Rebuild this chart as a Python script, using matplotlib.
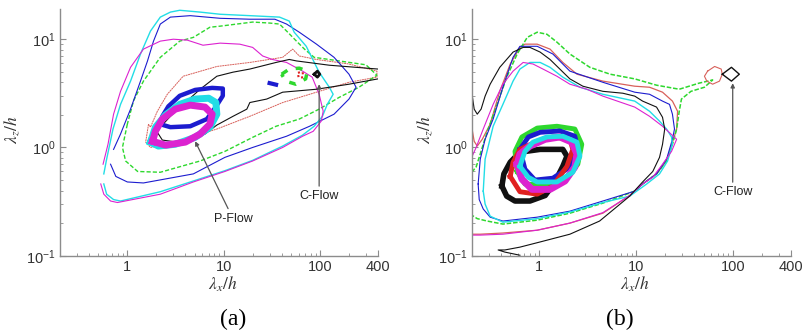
import matplotlib
matplotlib.use("Agg")
import matplotlib.pyplot as plt
from matplotlib.ticker import FixedLocator, LogLocator, NullFormatter

plt.rcParams['font.family'] = ['Liberation Sans', 'DejaVu Sans']
plt.rcParams['mathtext.fontset'] = 'stix'
plt.rcParams['mathtext.default'] = 'it'

# colours of the contour levels (MATLAB-like)
C_BLUE = '#1c1ccf'
C_CYAN = '#22dde6'
C_MAG = '#dc22d0'
C_GREEN = '#2ed82e'
C_RED = '#d8605a'
C_BLACK = '#111111'

# ---------------- panel (a): P-Flow ----------------
a_cyan_x = [0.57, 0.61, 0.72, 0.85, 2.2, 4.85, 10.3, 20, 41, 66, 87, 106, 119, 137, 125, 98, 72, 54, 48, 38,
            18.7, 9.2, 5.7, 3.5, 2.8, 2.2, 1.74, 1.37, 1.08, 0.85, 0.71, 0.61, 0.57]
a_cyan_y = [0.46, 0.37, 0.33, 0.32, 0.39, 0.49, 0.61, 0.76, 1.03, 1.30, 1.57, 1.94, 2.5, 3.1, 3.6, 4.96, 8.6, 11.6, 14.7, 16,
            16.5, 17, 17.8, 18.5, 17.8, 16, 11.9, 7.3, 4.1, 2.5, 1.48, 0.78, 0.57]

a_mag_x = [0.53, 0.57, 0.67, 0.79, 2.2, 4.85, 10.3, 20, 41, 66, 85, 103, 108, 98, 83, 66, 45, 32, 25.4, 20,
           14.7, 9.2, 6.1, 4.2, 3.0, 2.2, 1.47, 1.08, 0.85, 0.72, 0.63, 0.56]
a_mag_y = [0.46, 0.37, 0.32, 0.31, 0.37, 0.48, 0.60, 0.75, 1.0, 1.27, 1.41, 1.75, 2.16, 3.1, 4.46, 5.07, 6.1, 6.5, 7.0, 8.4,
           9.0, 9.2, 8.8, 9.8, 10, 9.6, 8.1, 5.5, 3.3, 2.03, 1.07, 0.70]

a_blue_x = [0.67, 0.76, 1.0, 1.47, 4.85, 10.3, 20, 45, 78, 140, 200, 237, 200, 140, 92, 61, 45, 34, 18.7, 9.2,
            4.5, 2.8, 2.2, 1.87, 1.62, 1.37, 1.08, 0.85, 0.72]
a_blue_y = [0.70, 0.54, 0.48, 0.47, 0.57, 0.81, 1.0, 1.27, 1.57, 2.03, 2.8, 3.6, 4.75, 6.8, 9.0, 11.6, 13.8, 15.3, 15.3, 15.6,
            16.5, 16, 13.8, 9.6, 6.3, 4.1, 2.26, 1.33, 0.96]

a_green_x = [1.0, 0.89, 0.96, 1.28, 2.2, 5.7, 10.3, 20, 35, 61, 98, 158, 254, 390, 300, 158, 87, 69, 57, 45,
             38, 30, 20, 13.7, 9.2, 7.2, 4.85, 3.5, 2.2, 1.47, 1.16, 1.0]
a_green_y = [1.64, 1.0, 0.75, 0.60, 0.59, 0.75, 0.92, 1.24, 1.57, 1.83, 2.26, 2.9, 3.6, 4.65, 5.8, 6.3, 6.8, 8.1, 9.6, 11.9,
             13.8, 14.1, 14.4, 13.8, 13.2, 12.9, 10.4, 9.6, 6.8, 4.1, 2.7, 1.64]

a_red_x = [1.66, 1.55, 1.74, 2.5, 4.5, 8.5, 18.7, 41, 92, 200, 390, 390, 200, 92, 61, 52, 41, 18.7, 8.5, 3.8,
           2.6, 2.05, 1.74, 1.66]
a_red_y = [1.64, 1.12, 1.0, 1.07, 1.24, 1.48, 1.94, 2.6, 3.24, 4.0, 4.46, 5.07, 5.9, 6.5, 7.0, 8.1, 6.8, 6.1, 5.6, 4.55,
           3.1, 2.16, 1.54, 1.64]

a_black_x = [2.05, 2.31, 3.3, 4.85, 6.4, 8.5, 12.5, 17.4, 18.7, 28, 41, 92, 200, 400]
a_black_y = [1.38, 1.17, 1.12, 1.19, 1.33, 1.61, 1.94, 2.26, 2.6, 2.8, 3.24, 3.45, 3.84, 4.3]
a_black2_x = [400, 125, 57, 48, 35, 18.7, 12.5, 8.5, 5.7, 3.8, 2.8, 2.2, 2.05]
a_black2_y = [5.3, 5.75, 6.3, 6.5, 6.1, 5.3, 4.96, 4.55, 3.45, 2.5, 1.94, 1.54, 1.38]

# thick inner rings (a)
a_ring_cyan_x = [1.74, 2.1, 3.15, 5.06, 7.2, 8.5, 8.3, 7.0, 5.06, 3.5, 2.5, 1.96, 1.74]
a_ring_cyan_y = [1.12, 1.03, 1.07, 1.24, 1.54, 2.03, 2.6, 2.85, 2.8, 2.5, 2.0, 1.54, 1.12]
a_ring_blue_x = [2.2, 2.8, 4.5, 6.7, 8.1, 9.8, 9.8, 7.6, 5.06, 3.5, 2.67, 2.31, 2.2]
a_ring_blue_y = [1.64, 1.54, 1.57, 1.83, 2.3, 3.0, 3.5, 3.55, 3.4, 3.0, 2.4, 1.94, 1.64]
a_ring_mag_x = [1.83, 2.5, 4.0, 5.7, 7.2, 7.6, 6.4, 4.5, 3.15, 2.31, 1.96, 1.83]
a_ring_mag_y = [1.14, 1.05, 1.12, 1.33, 1.64, 2.03, 2.36, 2.46, 2.26, 1.83, 1.42, 1.14]

# small C-Flow contours (a)
a_cf_green_x = [40, 48, 61, 74, 71, 56, 44, 40]
a_cf_green_y = [4.75, 5.3, 5.4, 5.07, 4.3, 3.84, 4.1, 4.75]
a_cf_red_x = [59, 66, 67, 60, 59]
a_cf_red_y = [4.9, 5.0, 4.45, 4.4, 4.9]
a_cf_blue_x = [30, 35]
a_cf_blue_y = [3.93, 3.8]
a_cf_black_x = [87, 94, 99.6, 94, 87]
a_cf_black_y = [4.75, 5.07, 4.75, 4.46, 4.75]

# ---------------- panel (b) ----------------
b_black_x = [0.20, 0.212, 0.228, 0.25, 0.275, 0.31, 0.39, 0.535, 0.68, 0.80, 1.02, 1.29, 1.63, 2.07, 2.82, 4.54,
             7.3, 9.7, 11.7, 16.3, 18.8, 19.8, 18.8, 17.5, 14.9, 11.7, 8.6, 4.2, 2.07, 1.02, 0.63, 0.44, 0.375,
             0.44, 0.63]
b_black_y = [3.24, 2.26, 2.03, 2.26, 2.98, 3.84, 5.5, 7.6, 8.4, 8.4, 7.6, 6.5, 5.3, 4.3, 3.68, 3.3,
             3.17, 2.98, 2.68, 2.36, 1.9, 1.48, 1.07, 0.81, 0.60, 0.48, 0.355, 0.209, 0.158, 0.134, 0.12, 0.113, 0.113,
             0.108, 0.101]

b_red_x = [0.20, 0.212, 0.228, 0.257, 0.31, 0.39, 0.50, 0.63, 0.71, 0.95, 1.29, 1.75, 2.45, 4.54, 9.7, 13.8,
           18.8, 23.8, 26.9, 26.3, 20.7, 16.3, 11.7, 8.6, 4.54, 2.07, 0.95, 0.42, 0.245, 0.20]
b_red_y = [1.54, 1.14, 1.03, 1.19, 1.64, 3.3, 5.9, 8.4, 9.0, 9.0, 8.1, 6.1, 4.75, 4.1, 3.68, 3.6,
           3.24, 2.68, 2.16, 1.48, 0.75, 0.57, 0.46, 0.36, 0.247, 0.20, 0.172, 0.162, 0.158, 0.158]

b_mag_x = [0.20, 0.222, 0.263, 0.333, 0.42, 0.535, 0.68, 0.86, 1.09, 1.52, 2.07, 3.1, 4.54, 9.7, 13.8, 18.8,
           26.3, 23.3, 18.8, 14.9, 11.7, 8.6, 4.54, 2.07, 0.95, 0.42, 0.245, 0.20]
b_mag_y = [0.81, 1.0, 1.48, 2.5, 3.84, 5.07, 6.1, 5.9, 5.3, 4.55, 3.84, 3.45, 2.98, 2.36, 1.94, 1.57,
           1.19, 0.92, 0.70, 0.53, 0.46, 0.36, 0.25, 0.20, 0.172, 0.158, 0.155, 0.155]

b_blue_x = [0.233, 0.245, 0.275, 0.333, 0.42, 0.535, 0.63, 0.95, 1.38, 2.07, 4.54, 9.7, 13.8, 18.8, 22.2, 23.8,
            25, 23.8, 20.7, 16.3, 11.7, 9.7, 4.54, 2.07, 0.95, 0.42, 0.31, 0.263, 0.239, 0.233]
b_blue_y = [0.46, 0.78, 1.19, 1.83, 3.6, 6.8, 8.6, 8.6, 7.3, 5.07, 4.0, 3.24, 3.1, 2.68, 2.5, 2.03,
            1.48, 1.19, 0.78, 0.57, 0.46, 0.395, 0.32, 0.258, 0.227, 0.209, 0.227, 0.27, 0.33, 0.46]

b_cyan_x = [0.263, 0.275, 0.333, 0.42, 0.535, 0.63, 0.80, 1.02, 1.29, 1.75, 2.63, 4.54, 9.7, 13.8, 17.5, 20.7,
            23.3, 23.8, 21.2, 17.5, 12.9, 8.6, 4.54, 2.07, 0.95, 0.42, 0.31, 0.275, 0.263]
b_cyan_y = [0.395, 0.78, 1.57, 2.5, 4.1, 5.3, 6.1, 6.1, 5.5, 4.46, 3.6, 3.1, 2.68, 2.16, 1.75, 1.48,
            1.25, 1.07, 0.75, 0.57, 0.46, 0.355, 0.31, 0.253, 0.22, 0.204, 0.232, 0.30, 0.395]

b_green_x = [0.20, 0.222, 0.245, 0.269, 0.296, 0.366, 0.46, 0.59, 0.75, 0.95, 1.2, 1.52, 2.07, 3.33, 5.4, 9.7,
             16.3, 28, 45, 62, 51, 37, 29.5, 28, 26.3, 23.8, 20.7, 16.3, 11.7, 9.7, 4.54, 2.07, 0.95, 0.42,
             0.289, 0.228, 0.20]
b_green_y = [0.59, 0.66, 0.87, 1.14, 1.48, 2.5, 4.46, 7.3, 10.4, 11.6, 11.1, 9.4, 7.3, 5.5, 4.75, 4.3,
             3.76, 3.45, 3.93, 4.2, 3.6, 3.3, 2.8, 2.16, 1.48, 1.07, 0.75, 0.57, 0.46, 0.395, 0.306, 0.247, 0.213,
             0.196, 0.209, 0.22, 0.237]

# thick inner rings (b)
b_ring_black_x = [0.41, 0.46, 0.56, 0.80, 1.15, 1.45, 1.75, 1.93, 1.75, 1.38, 1.02, 0.63, 0.50, 0.43, 0.41]
b_ring_black_y = [0.44, 0.355, 0.32, 0.32, 0.36, 0.48, 0.67, 0.83, 0.96, 0.96, 0.96, 0.905, 0.73, 0.57, 0.44]
b_ring_green_x = [0.59, 0.71, 1.15, 1.84, 2.5, 2.75, 2.33, 1.52, 0.95, 0.66, 0.56, 0.59]
b_ring_green_y = [0.60, 0.46, 0.45, 0.51, 0.70, 1.07, 1.48, 1.57, 1.51, 1.25, 0.92, 0.60]
b_ring_blue_x = [0.63, 0.71, 0.90, 1.38, 2.07, 2.5, 2.33, 1.63, 1.02, 0.77, 0.63]
b_ring_blue_y = [0.96, 0.63, 0.50, 0.52, 0.66, 0.96, 1.27, 1.42, 1.38, 1.25, 0.96]
b_ring_red_x = [0.50, 0.63, 0.95, 1.38, 1.93, 2.22, 2.07, 1.38, 0.95, 0.63, 0.535, 0.50]
b_ring_red_y = [0.54, 0.39, 0.37, 0.44, 0.67, 0.96, 1.19, 1.25, 1.14, 0.96, 0.73, 0.54]
b_ring_mag_x = [0.59, 0.66, 0.84, 1.29, 1.84, 2.33, 2.45, 2.17, 1.63, 1.15, 0.80, 0.63, 0.59]
b_ring_mag_y = [0.70, 0.51, 0.41, 0.41, 0.49, 0.66, 0.87, 1.12, 1.25, 1.19, 1.03, 0.87, 0.70]
b_ring_cyan_x = [0.63, 0.77, 0.95, 1.52, 2.22, 2.63, 2.45, 1.75, 1.2, 0.86, 0.71, 0.63]
b_ring_cyan_y = [0.67, 0.53, 0.48, 0.48, 0.59, 0.83, 1.12, 1.27, 1.25, 1.12, 0.92, 0.67]

# C-Flow contours (b)
b_cf_red_x = [55, 65, 76, 78, 73, 62, 54, 51, 55]
b_cf_red_y = [5.07, 5.6, 5.3, 4.75, 4.1, 3.84, 4.1, 4.55, 5.07]
b_cf_black_x = [78, 97, 117, 97, 78]
b_cf_black_y = [4.75, 5.5, 4.75, 4.1, 4.75]

x_ticks = [1, 10, 100, 400]
x_ticklabels = ['1', '10', '100', '400']

fig = plt.figure(figsize=(8.02, 3.32), dpi=100)
ax_a = fig.add_axes([0.0748, 0.2298, 0.3965, 0.743])
ax_b = fig.add_axes([0.5882, 0.2298, 0.398, 0.743])

for ax in (ax_a, ax_b):
    ax.set_xscale('log')
    ax.set_yscale('log')
    ax.set_xlim(0.2, 400)
    ax.set_ylim(0.1, 19)
    ax.xaxis.set_major_locator(FixedLocator(x_ticks))
    ax.set_xticklabels(x_ticklabels)
    ax.xaxis.set_minor_locator(LogLocator(base=10, subs=range(2, 10)))
    ax.xaxis.set_minor_formatter(NullFormatter())
    ax.yaxis.set_minor_locator(LogLocator(base=10, subs=range(2, 10)))
    ax.yaxis.set_minor_formatter(NullFormatter())
    for s in ('top', 'right'):
        ax.spines[s].set_visible(False)
    for s in ('left', 'bottom'):
        ax.spines[s].set_color('#8c8c8c')
        ax.spines[s].set_linewidth(1.0)
    ax.tick_params(which='both', direction='in', color='#8c8c8c', labelcolor='#333333', labelsize=10.5)
    ax.tick_params(which='major', length=4, pad=3)
    ax.tick_params(which='minor', length=2)

# panel (a) lines
thin = 0.8
ax_a.plot(a_red_x, a_red_y, color=C_RED, lw=0.7, ls=(0, (2, 0.6)))
ax_a.plot(a_green_x, a_green_y, color=C_GREEN, lw=1.0, ls=(0, (3, 1.5)))
ax_a.plot(a_blue_x, a_blue_y, color=C_BLUE, lw=thin)
ax_a.plot(a_cyan_x, a_cyan_y, color=C_CYAN, lw=1.0)
ax_a.plot(a_mag_x, a_mag_y, color=C_MAG, lw=thin)
ax_a.plot(a_black_x, a_black_y, color=C_BLACK, lw=thin)
ax_a.plot(a_black2_x, a_black2_y, color=C_BLACK, lw=thin)
ax_a.plot(a_ring_blue_x, a_ring_blue_y, color=C_BLUE, lw=3.2)
ax_a.plot(a_ring_cyan_x, a_ring_cyan_y, color=C_CYAN, lw=5)
ax_a.plot(a_ring_mag_x, a_ring_mag_y, color=C_MAG, lw=5)
ax_a.plot(a_cf_green_x, a_cf_green_y, color=C_GREEN, lw=2.5, ls=(0, (2, 2.5)))
ax_a.plot(a_cf_red_x, a_cf_red_y, color='#e02020', lw=1.5, ls=(0, (1, 1.5)))
ax_a.plot(a_cf_blue_x, a_cf_blue_y, color=C_BLUE, lw=3)
ax_a.plot(a_cf_black_x, a_cf_black_y, color=C_BLACK, lw=2)

arrow = dict(arrowstyle='-|>', color='#555555', lw=0.9, mutation_scale=6, shrinkA=1, shrinkB=0)
ax_a.annotate('P-Flow', xy=(5.06, 1.14), xytext=(12.5, 0.22), ha='center', va='center',
              fontsize=9, color='#222222', arrowprops=arrow)
ax_a.annotate('C-Flow', xy=(98, 3.84), xytext=(98, 0.354), ha='center', va='center',
              fontsize=9, color='#222222', arrowprops=arrow)

# panel (b) lines
ax_b.plot(b_red_x, b_red_y, color=C_RED, lw=0.9)
ax_b.plot(b_green_x, b_green_y, color=C_GREEN, lw=1.1, ls=(0, (3, 1.2)))
ax_b.plot(b_blue_x, b_blue_y, color=C_BLUE, lw=thin)
ax_b.plot(b_cyan_x, b_cyan_y, color=C_CYAN, lw=1.0)
ax_b.plot(b_mag_x, b_mag_y, color=C_MAG, lw=thin)
ax_b.plot(b_black_x, b_black_y, color=C_BLACK, lw=thin)
ax_b.plot(b_ring_black_x, b_ring_black_y, color=C_BLACK, lw=4)
ax_b.plot(b_ring_green_x, b_ring_green_y, color=C_GREEN, lw=3.5)
ax_b.plot(b_ring_blue_x, b_ring_blue_y, color=C_BLUE, lw=3.5)
ax_b.plot(b_ring_red_x, b_ring_red_y, color='#e02020', lw=3.5)
ax_b.plot(b_ring_mag_x, b_ring_mag_y, color=C_MAG, lw=5)
ax_b.plot(b_ring_cyan_x, b_ring_cyan_y, color=C_CYAN, lw=3.5)
ax_b.plot(b_cf_red_x, b_cf_red_y, color=C_RED, lw=0.8)
ax_b.plot(b_cf_black_x, b_cf_black_y, color=C_BLACK, lw=1.0)
ax_b.annotate('C-Flow', xy=(100, 3.92), xytext=(100, 0.385), ha='center', va='center',
              fontsize=9, color='#222222', arrowprops=arrow)

# axis labels and panel tags
for xc in (223 / 802, 635 / 802):
    fig.text(xc, 1 - 284 / 332, r'$\lambda_x/h$', ha='center', va='center', fontsize=12.5, color='#333333')
for xc in (12 / 802, 425 / 802):
    fig.text(xc, 1 - 130 / 332, r'$\lambda_z/h$', ha='center', va='center', fontsize=12.5,
             color='#333333', rotation=90)
fig.text(233 / 802, 1 - 319 / 332, '(a)', ha='center', va='center', fontsize=17, family='Liberation Serif')
fig.text(620 / 802, 1 - 319 / 332, '(b)', ha='center', va='center', fontsize=17, family='Liberation Serif')

fig.savefig('out.png', dpi=100)
